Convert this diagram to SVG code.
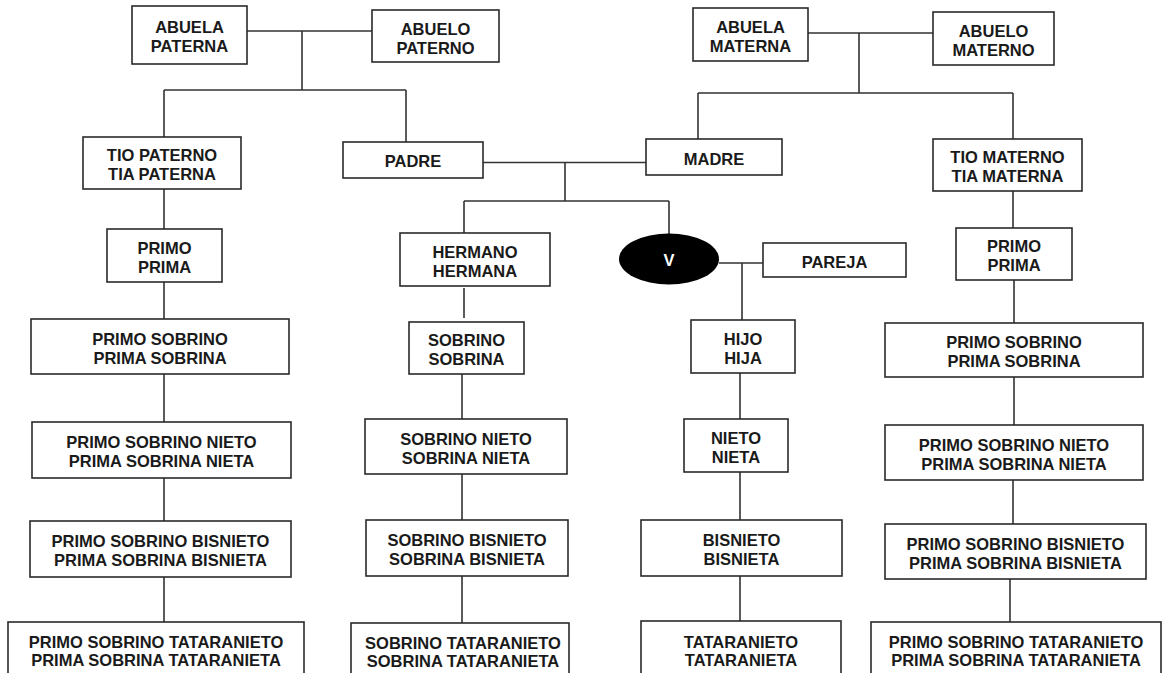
<svg xmlns="http://www.w3.org/2000/svg" width="1163" height="673" viewBox="0 0 1163 673">
<style>
.b{fill:#fff;stroke:#2a2a2a;stroke-width:1.6}
.t{font-family:"Liberation Sans",Arial,sans-serif;font-weight:bold;font-size:16.5px;fill:#1a1a1a;text-anchor:middle}
.w{fill:#fff}
.c path{fill:none;stroke:#333;stroke-width:1.6}
</style>
<rect width="1163" height="673" fill="#fff"/>
<g class="c" id="connectors">
<path d="M247 31H372M302 31V90M164 90H406M164 90V137M406 90V142"/>
<path d="M808 33H933M859 33V93M698 93H1013M698 93V139M1013 93V139"/>
<path d="M483 162.5H646M565 162.5V201M464 201H669M464 201V233M669 201V234"/>
<path d="M719 263H763M742 263V320"/>
<path d="M740 373V419M740 472V520M740 576V621"/>
<path d="M164 189V229M164 282V319M164 374V422M164 478V521M164 577V622"/>
<path d="M464 288V318M462 374V419M462 474V520M462 576V623"/>
<path d="M1013 191V228M1014 280V323M1014 377V425M1013 480V524M1010 579V622"/>
</g>
<g id="abuela_paterna"><rect class="b" x="132" y="6" width="115" height="58"/><text class="t" x="189.5" y="33">ABUELA</text><text class="t" x="189.5" y="52">PATERNA</text></g>
<g id="abuelo_paterno"><rect class="b" x="372" y="10" width="127" height="52"/><text class="t" x="435.5" y="34.5">ABUELO</text><text class="t" x="435.5" y="53.5">PATERNO</text></g>
<g id="abuela_materna"><rect class="b" x="693" y="8" width="115" height="53"/><text class="t" x="750.5" y="32.5">ABUELA</text><text class="t" x="750.5" y="51.5">MATERNA</text></g>
<g id="abuelo_materno"><rect class="b" x="933" y="12" width="121" height="53"/><text class="t" x="993.5" y="36.5">ABUELO</text><text class="t" x="993.5" y="55.5">MATERNO</text></g>
<g id="tio_paterno"><rect class="b" x="83" y="137" width="158" height="52"/><text class="t" x="162" y="161">TIO PATERNO</text><text class="t" x="162" y="180">TIA PATERNA</text></g>
<g id="padre"><rect class="b" x="343" y="142" width="140" height="36"/><text class="t" x="413" y="167">PADRE</text></g>
<g id="madre"><rect class="b" x="646" y="139" width="136" height="36"/><text class="t" x="714" y="164.5">MADRE</text></g>
<g id="tio_materno"><rect class="b" x="933" y="139" width="149" height="52"/><text class="t" x="1007.5" y="163">TIO MATERNO</text><text class="t" x="1007.5" y="182">TIA MATERNA</text></g>
<g id="primo_paterno"><rect class="b" x="107" y="229" width="115" height="53"/><text class="t" x="164.5" y="253.5">PRIMO</text><text class="t" x="164.5" y="272.5">PRIMA</text></g>
<g id="hermano"><rect class="b" x="400" y="233" width="150" height="53"/><text class="t" x="475" y="257.5">HERMANO</text><text class="t" x="475" y="276.5">HERMANA</text></g>
<g id="v"><ellipse cx="669" cy="259" rx="50" ry="25.5" fill="#000"/><text class="t w" x="669" y="266" style="fill:#fff">V</text></g>
<g id="pareja"><rect class="b" x="763" y="243" width="143" height="34"/><text class="t" x="834.5" y="268">PAREJA</text></g>
<g id="primo_materno"><rect class="b" x="956" y="228" width="116" height="52"/><text class="t" x="1014" y="252">PRIMO</text><text class="t" x="1014" y="271">PRIMA</text></g>
<g id="primo_sobrino_p"><rect class="b" x="31" y="319" width="258" height="55"/><text class="t" x="160" y="344.5">PRIMO SOBRINO</text><text class="t" x="160" y="363.5">PRIMA SOBRINA</text></g>
<g id="sobrino"><rect class="b" x="409" y="322" width="115" height="52"/><text class="t" x="466.5" y="346">SOBRINO</text><text class="t" x="466.5" y="365">SOBRINA</text></g>
<g id="hijo"><rect class="b" x="691" y="320" width="104" height="53"/><text class="t" x="743" y="344.5">HIJO</text><text class="t" x="743" y="363.5">HIJA</text></g>
<g id="primo_sobrino_m"><rect class="b" x="885" y="323" width="258" height="54"/><text class="t" x="1014" y="348">PRIMO SOBRINO</text><text class="t" x="1014" y="367">PRIMA SOBRINA</text></g>
<g id="psn_p"><rect class="b" x="32" y="422" width="259" height="56"/><text class="t" x="161.5" y="448">PRIMO SOBRINO NIETO</text><text class="t" x="161.5" y="467">PRIMA SOBRINA NIETA</text></g>
<g id="sobrino_nieto"><rect class="b" x="365" y="419" width="202" height="55"/><text class="t" x="466" y="444.5">SOBRINO NIETO</text><text class="t" x="466" y="463.5">SOBRINA NIETA</text></g>
<g id="nieto"><rect class="b" x="684" y="419" width="104" height="53"/><text class="t" x="736" y="443.5">NIETO</text><text class="t" x="736" y="462.5">NIETA</text></g>
<g id="psn_m"><rect class="b" x="885" y="425" width="258" height="55"/><text class="t" x="1014" y="450.5">PRIMO SOBRINO NIETO</text><text class="t" x="1014" y="469.5">PRIMA SOBRINA NIETA</text></g>
<g id="psb_p"><rect class="b" x="30" y="521" width="261" height="56"/><text class="t" x="160.5" y="547">PRIMO SOBRINO BISNIETO</text><text class="t" x="160.5" y="566">PRIMA SOBRINA BISNIETA</text></g>
<g id="sobrino_bisnieto"><rect class="b" x="366" y="520" width="202" height="56"/><text class="t" x="467" y="546">SOBRINO BISNIETO</text><text class="t" x="467" y="565">SOBRINA BISNIETA</text></g>
<g id="bisnieto"><rect class="b" x="641" y="520" width="201" height="56"/><text class="t" x="741.5" y="546">BISNIETO</text><text class="t" x="741.5" y="565">BISNIETA</text></g>
<g id="psb_m"><rect class="b" x="885" y="524" width="261" height="55"/><text class="t" x="1015.5" y="549.5">PRIMO SOBRINO BISNIETO</text><text class="t" x="1015.5" y="568.5">PRIMA SOBRINA BISNIETA</text></g>
<g id="pst_p"><rect class="b" x="8" y="622" width="296" height="60"/><text class="t" x="156" y="648">PRIMO SOBRINO TATARANIETO</text><text class="t" x="156" y="666">PRIMA SOBRINA TATARANIETA</text></g>
<g id="sobrino_tataranieto"><rect class="b" x="351" y="623" width="218" height="60"/><text class="t" x="463" y="649">SOBRINO TATARANIETO</text><text class="t" x="463" y="667">SOBRINA TATARANIETA</text></g>
<g id="tataranieto"><rect class="b" x="641" y="621" width="200" height="60"/><text class="t" x="741" y="648">TATARANIETO</text><text class="t" x="741" y="666">TATARANIETA</text></g>
<g id="pst_m"><rect class="b" x="871" y="622" width="290" height="60"/><text class="t" x="1016" y="648">PRIMO SOBRINO TATARANIETO</text><text class="t" x="1016" y="666">PRIMA SOBRINA TATARANIETA</text></g>
</svg>
